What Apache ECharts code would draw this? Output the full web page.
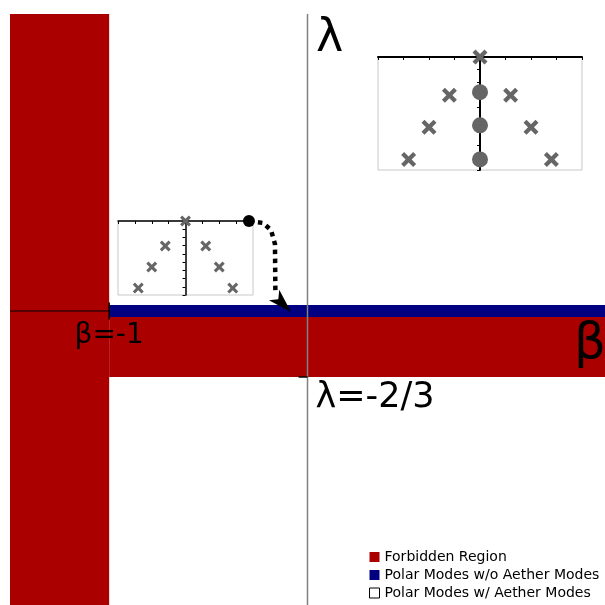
<!DOCTYPE html>
<html>
<head>
<meta charset="utf-8">
<script src="https://cdn.jsdelivr.net/npm/echarts@6/dist/echarts.min.js"></script>
<style>
html,body{margin:0;padding:0;background:#fff;}
#main{width:605px;height:605px;}
</style>
</head>
<body>
<div id="main"></div>
<script>
// main plane: beta across, lambda up
var betaRange = [-1.5, 1.5];
var lambdaRange = [-2.97, 3];

// regions, as [corner, corner] in (beta, lambda)
var forbiddenAreas = [
	[[-1.5, 3], [-1, -2.97]],
	[[-1, -0.06], [1.5, -2 / 3]]
];
var polarBand = [[-1, 0.06], [1.5, -0.06]];

// axis lines through the origin
var lambdaAxisLine = [[0, -2.97], [0, 3]];
var betaAxisLine = [[-1.5, 0], [-1, 0]];

// ticks and their labels
var tickValues = [[-1, 0], [0, -2 / 3]];
var tickLabels = ['β=-1', 'λ=-2/3'];
var axisNames = ['β', 'λ'];

// insets (mode spectra)
var insetX = [-5, 5];
var insetY = [-5.625, 0];
var crossPoints = [[0, 0], [-1.5, -1.9], [1.5, -1.9], [-2.5, -3.5], [2.5, -3.5], [-3.5, -5.1], [3.5, -5.1]];
var circlePoints = [[0, -1.75], [0, -3.4], [0, -5.1]];
var dotPoint = [[4.7, 0]];

// dotted arrow from the small inset down to the band
var arrowPath = [[-0.295, 0.909], [-0.224, 0.889], [-0.184, 0.818], [-0.164, 0.677], [-0.162, 0.2]];
var arrowHead = [[-0.083, -0.01]];
var arrowAngle = -135;

var legendNames = ['Forbidden Region', 'Polar Modes w/o Aether Modes', 'Polar Modes w/ Aether Modes'];

var RED = '#aa0000';
var BLUE = '#000080';
var GREY = '#666666';
var FONT = 'DejaVu Sans';
var crossPath = 'path://M2,0L5,3L8,0L10,2L7,5L10,8L8,10L5,7L2,10L0,8L3,5L0,2Z';

function insetAxes(idx, lw) {
	var x = {
		type: 'value', gridIndex: idx, min: insetX[0], max: insetX[1], interval: 1.25,
		position: 'top',
		axisLine: {onZero: false, lineStyle: {color: '#000', width: lw}},
		axisTick: {inside: true, length: 3, lineStyle: {color: '#000'}},
		axisLabel: {show: false}, splitLine: {show: false}
	};
	var y = {
		type: 'value', gridIndex: idx, min: insetY[0], max: insetY[1], interval: 0.625,
		axisLine: {onZero: true, lineStyle: {color: '#000', width: lw}},
		axisTick: {length: 3, lineStyle: {color: '#000'}},
		axisLabel: {show: false}, splitLine: {show: false}
	};
	return [x, y];
}

var ax1 = insetAxes(1, 2);
var ax2 = insetAxes(2, 1.5);

var option = {
	animation: false,
	backgroundColor: '#fff',
	grid: [
		{left: 10, top: 14, width: 595, height: 591},
		{left: 378, top: 57, width: 204, height: 113, show: true, borderColor: '#c8c8c8', borderWidth: 1, backgroundColor: '#fff'},
		{left: 118, top: 221, width: 135, height: 74, show: true, borderColor: '#c8c8c8', borderWidth: 1, backgroundColor: '#fff'}
	],
	xAxis: [
		{type: 'value', gridIndex: 0, min: betaRange[0], max: betaRange[1], show: false},
		ax1[0], ax2[0]
	],
	yAxis: [
		{type: 'value', gridIndex: 0, min: lambdaRange[0], max: lambdaRange[1], show: false},
		ax1[1], ax2[1]
	],
	legend: {
		orient: 'vertical', left: 369, top: 550, padding: 0,
		itemWidth: 10, itemHeight: 10, itemGap: 4, icon: 'rect',
		textStyle: {fontFamily: FONT, fontSize: 14, color: '#000'},
		data: [
			{name: legendNames[0], itemStyle: {color: RED}},
			{name: legendNames[1], itemStyle: {color: BLUE}},
			{name: legendNames[2], itemStyle: {color: '#fff', borderColor: '#000', borderWidth: 1}}
		]
	},
	graphic: [
		{type: 'text', left: 316, top: 16, z: 20, style: {text: axisNames[1], font: '46px ' + FONT, fill: '#000'}},
		{type: 'text', left: 574, top: 320, z: 20, style: {text: axisNames[0], font: '50px ' + FONT, fill: '#000'}}
	],
	series: [
		{
			name: legendNames[0], type: 'line', data: [], z: 1,
			itemStyle: {color: RED},
			markArea: {
				silent: true, label: {show: false},
				itemStyle: {color: RED, opacity: 1},
				data: forbiddenAreas.map(function (a) { return [{coord: a[0]}, {coord: a[1]}]; })
			}
		},
		{
			name: legendNames[1], type: 'line', data: [], z: 1,
			itemStyle: {color: BLUE},
			markArea: {
				silent: true, label: {show: false},
				itemStyle: {color: BLUE, opacity: 1},
				data: [[{coord: polarBand[0]}, {coord: polarBand[1]}]]
			}
		},
		{name: legendNames[2], type: 'line', data: [], itemStyle: {color: '#fff'}},
		// axis lines
		{type: 'line', data: lambdaAxisLine, symbol: 'none', z: 3, silent: true,
			lineStyle: {color: '#808080', width: 1.5}},
		{type: 'line', data: betaAxisLine, symbol: 'none', z: 3, silent: true,
			lineStyle: {color: '#000', width: 1}},
		// ticks with labels
		{
			type: 'scatter', z: 4, silent: true,
			data: [
				{value: tickValues[0], symbol: 'rect', symbolSize: [1.5, 17],
					label: {show: true, formatter: tickLabels[0], position: 'bottom', distance: 2,
						fontSize: 28, color: '#000', fontFamily: FONT}},
				{value: tickValues[1], symbol: 'rect', symbolSize: [9, 1.5], symbolOffset: [-4.5, 0],
					label: {show: true, formatter: tickLabels[1], position: [17, 4], align: 'left', verticalAlign: 'top',
						fontSize: 35, color: '#000', fontFamily: FONT}}
			],
			itemStyle: {color: '#000', opacity: 1}
		},
		// big inset
		{type: 'scatter', xAxisIndex: 1, yAxisIndex: 1, data: crossPoints, symbol: crossPath, symbolSize: 15,
			itemStyle: {color: GREY, opacity: 1}, z: 4},
		{type: 'scatter', xAxisIndex: 1, yAxisIndex: 1, data: circlePoints, symbol: 'circle', symbolSize: 16,
			itemStyle: {color: GREY, opacity: 1}, z: 4},
		// small inset
		{type: 'scatter', xAxisIndex: 2, yAxisIndex: 2, data: crossPoints, symbol: crossPath, symbolSize: 11,
			itemStyle: {color: GREY, opacity: 1}, z: 4},
		{type: 'scatter', xAxisIndex: 2, yAxisIndex: 2, data: dotPoint, symbol: 'circle', symbolSize: 12,
			itemStyle: {color: '#000', opacity: 1}, z: 6},
		// dotted arrow: curve, then the head
		{
			type: 'lines', coordinateSystem: 'cartesian2d', polyline: true, z: 5, silent: true,
			lineStyle: {color: '#000', width: 4.5, type: 'dotted', opacity: 1},
			data: [{coords: arrowPath}]
		},
		{
			type: 'scatter', z: 5, silent: true, data: arrowHead,
			symbol: 'arrow', symbolSize: [11, 24], symbolRotate: arrowAngle,
			itemStyle: {color: '#000', opacity: 1}
		}
	]
};

var chart = echarts.init(document.getElementById('main'));
chart.setOption(option);
</script>
</body>
</html>
